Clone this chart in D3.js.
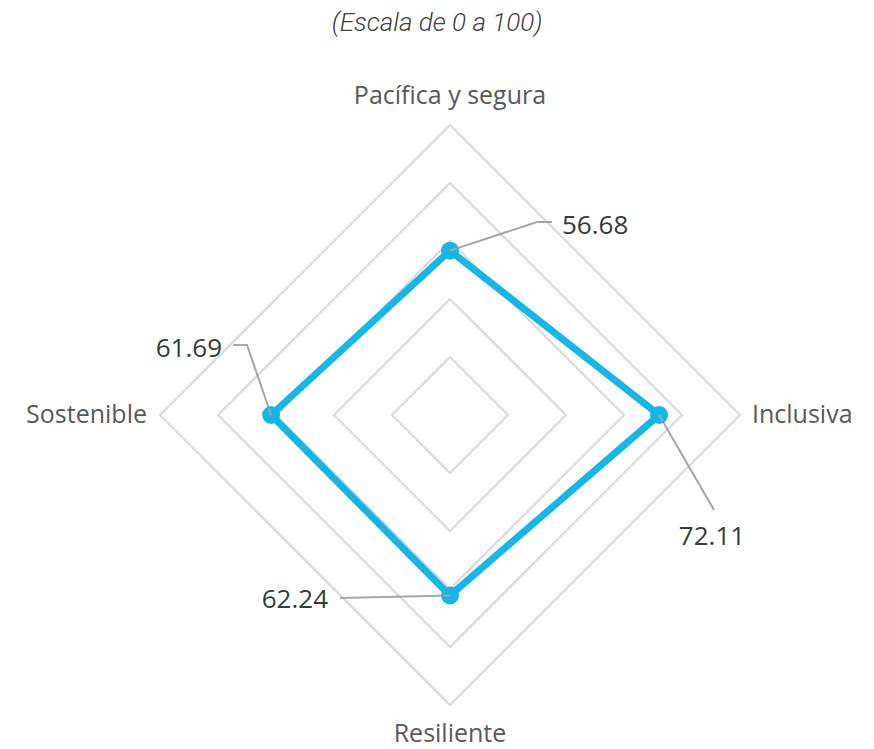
<!DOCTYPE html>
<html>
<head>
<meta charset="utf-8">
<script src="https://cdn.jsdelivr.net/npm/d3@7"></script>
<style>
  body { margin: 0; background: #fff; }
  svg { display: block; }
</style>
</head>
<body>
<svg id="chart" width="874" height="749"></svg>
<script>
// Data
var axes = ['Pacífica y segura', 'Inclusiva', 'Resiliente', 'Sostenible'];
var values = [56.68, 72.11, 62.24, 61.69];
var gridLevels = [20, 40, 60, 80, 100];
var subtitle = '(Escala de 0 a 100)';

var svg = d3.select('#chart');
var cx = 450, cy = 415, R = 290;

var r = d3.scaleLinear().domain([0, 100]).range([0, R]);
// top, right, bottom, left
var angle = d3.scalePoint().domain(axes).range([0, 270]);

function pos(name, v) {
  var a = (angle(name) - 90) * Math.PI / 180;
  return [cx + Math.cos(a) * r(v), cy + Math.sin(a) * r(v)];
}

// Subtitle
svg.append('text')
  .attr('x', 437).attr('y', 31)
  .attr('text-anchor', 'middle')
  .style('font-family', 'Roboto, sans-serif')
  .style('font-style', 'italic')
  .style('font-weight', 300)
  .style('font-size', '26px')
  .style('fill', '#404040')
  .text(subtitle);

// Grid diamonds
var line = d3.line();
svg.append('g').selectAll('path')
  .data(gridLevels)
  .join('path')
    .attr('d', lv => line(axes.map(a => pos(a, lv))) + 'Z')
    .attr('fill', 'none')
    .attr('stroke', '#d9d9d9')
    .attr('stroke-width', 2);

// Category labels
var labelFont = '"Open Sans", sans-serif';
var catPos = [
  {x: 450, y: 104, anchor: 'middle'},
  {x: 752, y: 423, anchor: 'start'},
  {x: 450, y: 742, anchor: 'middle'},
  {x: 147, y: 423, anchor: 'end'}
];
svg.append('g').selectAll('text')
  .data(axes)
  .join('text')
    .attr('x', (d, i) => catPos[i].x)
    .attr('y', (d, i) => catPos[i].y)
    .attr('text-anchor', (d, i) => catPos[i].anchor)
    .style('font-family', labelFont)
    .style('font-size', '25px')
    .style('fill', '#595959')
    .text(d => d);

// Leader lines (point -> bend -> end) and value labels
var pts = axes.map((a, i) => pos(a, values[i]));
var leaders = [
  {path: [[537, 222], [552, 222]], lx: 562, ly: 234, anchor: 'start'},
  {path: [[714, 510]], lx: 712, ly: 545, anchor: 'middle'},
  {path: [[340, 598]], lx: 328, ly: 608, anchor: 'end'},
  {path: [[247, 345], [233, 345]], lx: 222, ly: 357, anchor: 'end'}
];
svg.append('g').selectAll('path')
  .data(leaders)
  .join('path')
    .attr('d', (d, i) => line([pts[i]].concat(d.path)))
    .attr('fill', 'none')
    .attr('stroke', '#a6a6a6')
    .attr('stroke-width', 2);

// Data polygon
svg.append('path')
  .attr('d', line(pts) + 'Z')
  .attr('fill', 'none')
  .attr('stroke', '#16b6e6')
  .attr('stroke-width', 7)
  .attr('stroke-linejoin', 'round');

svg.append('g').selectAll('circle')
  .data(pts)
  .join('circle')
    .attr('cx', d => d[0])
    .attr('cy', d => d[1])
    .attr('r', 9)
    .attr('fill', '#16b6e6');

// leader line end caps over the markers, as in the original
svg.append('g').selectAll('path')
  .data(leaders)
  .join('path')
    .attr('d', (d, i) => line([pts[i], d.path[0]]))
    .attr('stroke', '#a6a6a6')
    .attr('stroke-width', 2)
    .attr('stroke-dasharray', '7 1000');

svg.append('g').selectAll('text')
  .data(values)
  .join('text')
    .attr('x', (d, i) => leaders[i].lx)
    .attr('y', (d, i) => leaders[i].ly)
    .attr('text-anchor', (d, i) => leaders[i].anchor)
    .style('font-family', labelFont)
    .style('font-size', '26px')
    .style('fill', '#333b3b')
    .text(d => d.toFixed(2));
</script>
</body>
</html>
